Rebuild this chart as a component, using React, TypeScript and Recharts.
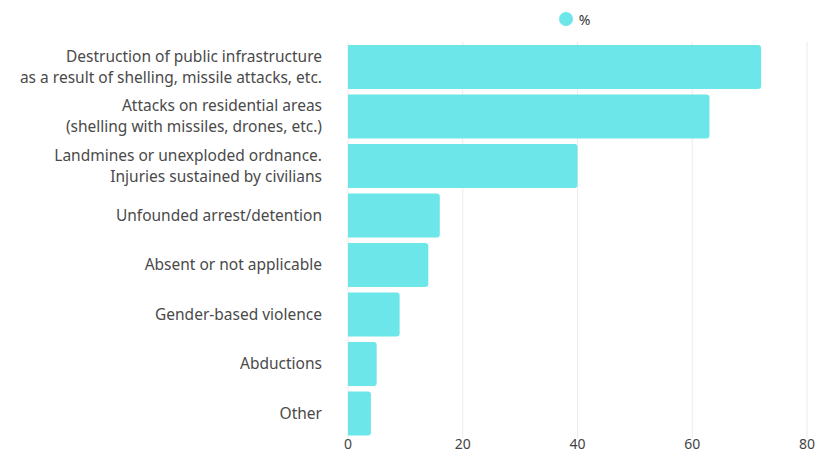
import React from "react";
import { BarChart, Bar, XAxis, YAxis, CartesianGrid, Legend } from "recharts";

const categories: string[] = [
  "Destruction of public infrastructure\nas a result of shelling, missile attacks, etc.",
  "Attacks on residential areas\n(shelling with missiles, drones, etc.)",
  "Landmines or unexploded ordnance.\nInjuries sustained by civilians",
  "Unfounded arrest/detention",
  "Absent or not applicable",
  "Gender-based violence",
  "Abductions",
  "Other",
];
const percentValues: number[] = [72, 63, 40, 16, 14, 9, 5, 4];
const xTicks: number[] = [0, 20, 40, 60, 80];

const data = categories.map((c, i) => ({ name: c, value: percentValues[i] }));

const FONT = "'Noto Sans', sans-serif";
const BAR_COLOR = "#6de6e9";

const YTick = (props: any) => {
  const { x, y, payload } = props;
  const lines: string[] = String(payload.value).split("\n");
  const lh = 21;
  const start = -((lines.length - 1) * lh) / 2;
  return (
    <text
      x={x}
      y={y}
      textAnchor="end"
      fill="#4a4a4a"
      fontSize={15.5}
      fontFamily={FONT}
    >
      {lines.map((l, i) => (
        <tspan key={i} x={x} y={y + start + i * lh} dy="0.35em">
          {l}
        </tspan>
      ))}
    </text>
  );
};

const LegendContent = () => (
  <div
    style={{
      display: "flex",
      justifyContent: "center",
      alignItems: "center",
      fontFamily: FONT,
      fontSize: 14,
      color: "#333",
      height: 18,
    }}
  >
    <span
      style={{
        display: "inline-block",
        width: 14,
        height: 14,
        borderRadius: 7,
        background: BAR_COLOR,
        marginRight: 6,
      }}
    />
    <span>%</span>
  </div>
);

export default function App() {
  return (
    <div style={{ position: "absolute", left: 0, top: 0, background: "#fff" }}>
      <BarChart
        width={829}
        height={453}
        data={data}
        layout="vertical"
        margin={{ top: 24, right: 22, bottom: 0, left: 0 }}
        barSize={44}
      >
        <CartesianGrid horizontal={false} vertical={true} stroke="#ebebeb" />
        <XAxis
          type="number"
          domain={[0, 80]}
          ticks={xTicks}
          axisLine={false}
          tickLine={false}
          tickSize={0}
          tickMargin={1}
          height={15}
          interval={0}
          tick={{ fill: "#444", fontSize: 14, fontFamily: FONT }}
        />
        <YAxis
          type="category"
          dataKey="name"
          width={348}
          axisLine={false}
          tickLine={false}
          tickSize={0}
          tickMargin={26}
          interval={0}
          tick={<YTick />}
        />
        <Legend
          verticalAlign="top"
          content={<LegendContent />}
          wrapperStyle={{ left: 345, width: 459, top: 10 }}
        />
        <Bar
          dataKey="value"
          name="%"
          fill={BAR_COLOR}
          radius={[0, 3, 3, 0]}
          isAnimationActive={false}
        />
      </BarChart>
    </div>
  );
}
